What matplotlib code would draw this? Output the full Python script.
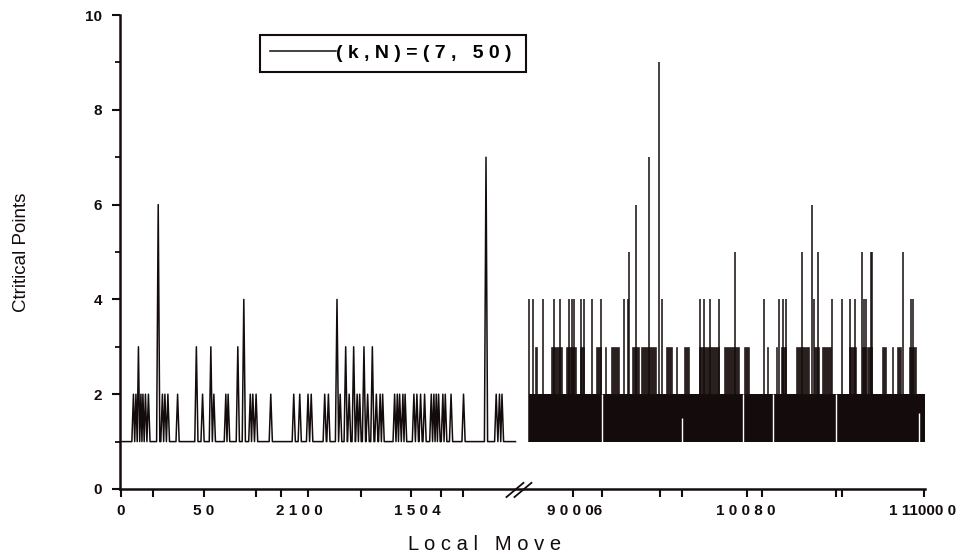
import matplotlib.pyplot as plt

plt.rcParams['font.family'] = ['Liberation Sans', 'DejaVu Sans']

# ---- data (x in axis units along the broken "Local Move" axis) ----
# left part: a trace sitting on 1 with peaks
left_start, left_end = 2, 396
left_peak_x = [13.5, 16, 18.5, 21, 23, 25.5, 28.5, 38.3, 42.5, 45, 48, 57.7,
               76.5, 82.7, 91, 94, 106, 108.3, 118, 124, 130.5, 133, 136.3,
               151, 174, 180, 188.3, 191.5, 205, 208.7, 217.3, 220.5, 226,
               229.5, 234, 237.5, 240, 244.3, 248, 252.7, 256.7, 260.5, 263,
               275, 277.7, 280, 283.3, 285.5, 294.3, 297.3, 301, 305, 311.7,
               314.3, 316.7, 319, 323.3, 325.7, 331.5, 344, 366.5, 376.7, 380,
               382.5]
left_peak_y = [2, 2, 3, 2, 2, 2, 2, 6, 2, 2, 2, 2,
               3, 2, 3, 2, 2, 2, 3, 4, 2, 2, 2,
               2, 2, 2, 2, 2, 2, 2, 4, 2, 3,
               2, 3, 2, 2, 3, 2, 3, 2, 2, 2,
               2, 2, 2, 2, 2, 2, 2, 2, 2, 2,
               2, 2, 2, 2, 2, 2, 2, 7, 2, 2,
               2]

# right part: trace oscillating so fast it fills 1..2, with spikes
right_start, right_end = 409.3, 806
right_spike_x = [409.3, 413.3, 424, 434.3, 440.7, 450, 452.3, 455, 462, 465,
                 472.7, 481.7, 505, 508.3, 510, 517, 529.3, 540, 542.7, 581,
                 584.3, 591, 599.3, 616, 645, 660.3, 664, 667.3, 683.3, 692.7,
                 695, 699.3, 713.3, 723.3, 731, 736, 742.7, 745, 746.7, 751.7,
                 753.3, 784, 791.7, 794]
right_spike_y = [4, 4, 4, 4, 4, 4, 4, 4, 4, 4,
                 4, 4, 4, 4, 5, 6, 7, 9, 4, 4,
                 4, 4, 4, 5, 4, 4, 4, 4, 5, 6,
                 4, 5, 4, 4, 4, 4, 5, 4, 4, 5,
                 5, 5, 4, 4]
# stretches where the trace reaches 3 densely
band3_lo = [416, 432, 447, 461, 477, 486, 492, 513, 522, 547, 557, 565, 580,
            605, 625, 648, 657, 662, 677, 695, 703, 730, 743, 748, 763, 773,
            778, 790]
band3_hi = [417.5, 443, 457, 465, 482, 486.8, 500, 520, 537, 553, 557.8, 570,
            600, 620, 630, 648.8, 657.8, 667, 690, 700, 712, 737, 747, 753,
            767, 773.8, 782, 797]
# thin white breaks in the dense band
gap_x = [483, 563, 624, 654, 717, 800]
gap_top = [2, 1.5, 2, 2, 2, 1.6]

xtick_pos = [1, 84, 180, 298, 455, 627, 804]
xtick_labels = ['0', '5 0', '2 1 0 0', '1 5 0 4', '9 0 0 06', '1 0 0 8 0',
                '1 11000 0']
xtick_marks = [0.7, 33.3, 84.3, 136.7, 161.7, 188.3, 241.7, 291.7, 321.7,
               343.3, 453.3, 482.7, 541, 563, 628.3, 643.3, 716.7, 723.3, 805]
break_x = 387


def peak_trace(x0, x1, px, py, w=1.6):
    """ Builds the line vertices: baseline of 1 with triangular peaks. """
    xs, ys = [x0], [1]
    for i, (x, y) in enumerate(zip(px, py)):
        if i > 0 and x - w < px[i - 1] + w:
            xs.append((px[i - 1] + x) / 2)
            ys.append(1)
        else:
            if i > 0:
                xs.append(px[i - 1] + w)
                ys.append(1)
            xs.append(x - w)
            ys.append(1)
        xs.append(x)
        ys.append(y)
    xs += [px[-1] + w, x1]
    ys += [1, 1]
    return xs, ys


ink = '#140c0c'

fig = plt.figure(figsize=(9.62, 5.6), dpi=100)
ax = fig.add_axes([0.1247, 0.1268, 0.8368, 0.8464])

# left trace
lx, ly = peak_trace(left_start, left_end, left_peak_x, left_peak_y)
line, = ax.plot(lx, ly, color=ink, lw=1.1)

# right dense part
ax.bar(right_start, 1, width=right_end - right_start, bottom=1, align='edge',
       color=ink, lw=0)
ax.bar(band3_lo, 1, width=[h - l for l, h in zip(band3_lo, band3_hi)],
       bottom=2, align='edge', color='#2a2020', edgecolor=ink, lw=0.4)
ax.vlines(right_spike_x, 1, right_spike_y, color=ink, lw=1.1)
ax.vlines(gap_x, 1, gap_top, color='white', lw=1.0)

ax.set_xlim(0, 806)
ax.set_ylim(0, 10)

for s in ['top', 'right']:
    ax.spines[s].set_visible(False)
for s in ['left', 'bottom']:
    ax.spines[s].set_linewidth(1.8)
    ax.spines[s].set_color(ink)

ax.set_yticks(range(0, 11, 2))
ax.set_yticks(range(1, 10, 2), minor=True)
ax.set_xticks(xtick_pos, xtick_labels)
ax.set_xticks(xtick_marks, minor=True)
ax.tick_params(axis='y', which='major', length=6, width=1.5, color=ink,
               labelsize=11, pad=7)
ax.tick_params(axis='y', which='minor', length=3.5, width=1.3, color=ink)
ax.tick_params(axis='x', which='major', length=0, pad=11, labelsize=11)
ax.tick_params(axis='x', which='minor', length=6, width=1.5, color=ink)
for t in ax.get_xticklabels() + ax.get_yticklabels():
    t.set_fontweight('bold')
    t.set_color(ink)

# axis break marks
tr = ax.get_xaxis_transform()
for dx in [0, 8]:
    ax.plot([break_x + dx, break_x + dx + 17], [-0.017, 0.013], color=ink,
            lw=1.3, transform=tr, clip_on=False)

ax.set_xlabel('L o c a l   M o v e', fontsize=14.5, color=ink)
ax.xaxis.set_label_coords(0.453, -0.097)
ax.set_ylabel('Ctritical Points', fontsize=13.5, color=ink)
ax.yaxis.set_label_coords(-0.112, 0.5)

leg = ax.legend([line], ['( k , N ) = ( 7 ,   5 0 ) '], loc='upper left',
                bbox_to_anchor=(0.174, 0.958), borderaxespad=0,
                fancybox=False, edgecolor=ink, framealpha=1,
                handlelength=3.4, handletextpad=0.0, borderpad=0.5,
                prop={'size': 14, 'weight': 'bold'})
leg.get_frame().set_linewidth(1.5)

fig.savefig('out.png', dpi=100, facecolor='white')
